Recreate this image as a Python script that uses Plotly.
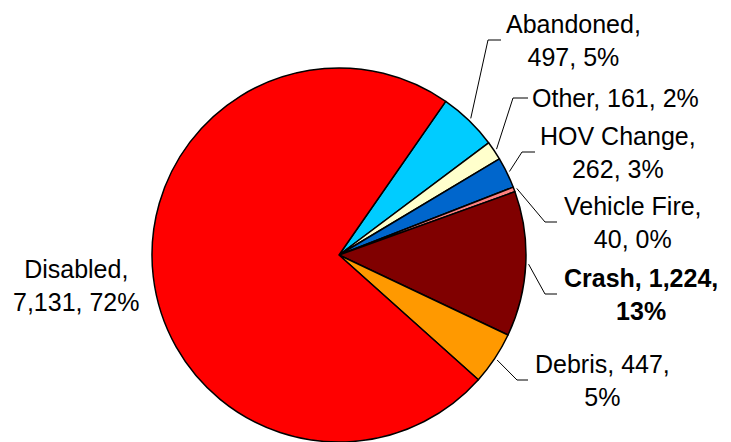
import math
import plotly.graph_objects as go

# ---- data ----
categories = ["Abandoned", "Other", "HOV Change", "Vehicle Fire", "Crash", "Debris", "Disabled"]
counts = [497, 161, 262, 40, 1224, 447, 7131]
pct_labels = ["5%", "2%", "3%", "0%", "13%", "5%", "72%"]
colors = ["#00CCFF", "#FFFFCC", "#0066CC", "#FF8080", "#800000", "#FF9900", "#FF0000"]

# ---- layout constants ----
W, H = 731, 442
CX, CY, R = 339, 255, 187
ROTATION = 34.8
FONT = "Arial, Liberation Sans, sans-serif"
FS = 25

# label layout: (center x px, center y px, line-break style, elbow x, end x, bold)
label_layout = {
    "Abandoned":    (573, 40, "cat", 488, 501, False),
    "Other":        (615, 98, "one", 513, 528, False),
    "HOV Change":   (618, 152, "cat", 522, 535, False),
    "Vehicle Fire": (633, 222, "cat", 545, 557, False),
    "Crash":        (641, 294, "num", 545, 557, True),
    "Debris":       (602, 380, "num", 517, 528, False),
    "Disabled":     (76, 285, "cat", None, None, False),
}

def px(x):
    return x / W

def py(y):
    return 1 - y / H

fig = go.Figure()
fig.add_trace(go.Pie(
    labels=categories,
    values=counts,
    sort=False,
    direction="clockwise",
    rotation=ROTATION,
    marker=dict(colors=colors, line=dict(color="black", width=1.5)),
    textinfo="none",
    hoverinfo="label+value+percent",
    showlegend=False,
    domain=dict(x=[px(CX - R), px(CX + R)], y=[py(CY + R), py(CY - R)]),
))

total = sum(counts)
cum = 0
annotations = []
shapes = []
for cat, v, p in zip(categories, counts, pct_labels):
    mid = ROTATION + (cum + v / 2) / total * 360
    cum += v
    lx, ly, style, ex, endx, bold = label_layout[cat]
    if style == "cat":
        txt = f"{cat},<br>{v:,}, {p}"
    elif style == "num":
        txt = f"{cat}, {v:,},<br>{p}"
    else:
        txt = f"{cat}, {v:,}, {p}"
    if bold:
        txt = f"<b>{txt}</b>"
    annotations.append(dict(
        x=px(lx), y=py(ly), xref="paper", yref="paper",
        text=txt, showarrow=False, xanchor="center", yanchor="middle",
        align="center", font=dict(family=FONT, size=FS, color="black"),
    ))
    if ex is not None:
        a = math.radians(mid)
        sx = CX + R * 1.015 * math.sin(a)
        sy = CY - R * 1.015 * math.cos(a)
        path = f"M {px(sx)} {py(sy)} L {px(ex)} {py(ly)} L {px(endx)} {py(ly)}"
        shapes.append(dict(type="path", path=path, xref="paper", yref="paper",
                           line=dict(color="black", width=1)))

fig.update_layout(
    width=W, height=H,
    margin=dict(l=0, r=0, t=0, b=0),
    paper_bgcolor="white", plot_bgcolor="white",
    annotations=annotations, shapes=shapes,
)

fig.write_html("out.html")
